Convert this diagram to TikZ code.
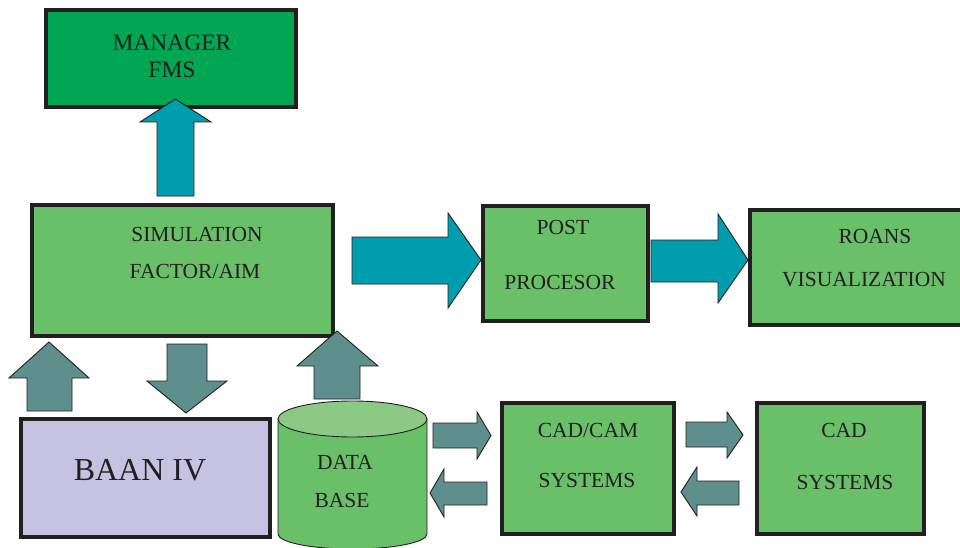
\documentclass[tikz,border=0pt]{standalone}
\usepackage{fontspec}
\setmainfont{Liberation Serif}
\definecolor{mgrgreen}{HTML}{00A651}
\definecolor{boxgreen}{HTML}{6ABF69}
\definecolor{tealA}{HTML}{009DAE}
\definecolor{tealB}{HTML}{5F8F8D}
\definecolor{baan}{HTML}{C5C3E1}
\definecolor{dbtop}{HTML}{8CC985}
\definecolor{ink}{HTML}{231F20}
\begin{document}
\begin{tikzpicture}[x=1pt,y=-1pt,
  box/.style={draw=ink, line width=4pt, rectangle, inner sep=0pt},
  lbl/.style={text=ink, font=\fontsize{21.5}{21.5}\selectfont, inner sep=0pt, text depth=0pt},
  barrow/.style={draw=ink, line width=0.9pt, line join=miter}]
\useasboundingbox (0,0) rectangle (960,548);
\clip (0,0) rectangle (960,548);
% boxes
\node[box, fill=mgrgreen, minimum width=250pt, minimum height=97pt] (mgr) at (171,58.5) {};
\node[box, fill=boxgreen, minimum width=301pt, minimum height=131pt] (sim) at (182.5,270.5) {};
\node[box, fill=boxgreen, minimum width=165pt, minimum height=115pt] (post) at (565.5,263.5) {};
\node[box, fill=boxgreen, minimum width=216pt, minimum height=115pt] (roans) at (858,267.5) {};
\node[box, line width=4.5pt, fill=baan, minimum width=249pt, minimum height=118pt] (baan) at (145.5,478) {};
\node[box, fill=boxgreen, minimum width=172pt, minimum height=131pt] (cadcam) at (588,468.5) {};
\node[box, fill=boxgreen, minimum width=167pt, minimum height=131pt] (cad) at (840.5,468.5) {};
% database cylinder
\draw[draw=ink, line width=0.9pt, fill=boxgreen] (278,419) -- (278,534)
  arc[start angle=180, end angle=0, x radius=74.5, y radius=15] -- (427,419) -- cycle;
\draw[draw=ink, line width=0.9pt, fill=dbtop] (352.5,419) ellipse [x radius=74.5, y radius=18];
% teal arrows
\draw[barrow, fill=tealA] (157,196) -- (157,122) -- (140,122) -- (175.5,99) -- (211,122) -- (194,122) -- (194,196) -- cycle;
\draw[barrow, fill=tealA] (352,237) -- (448,237) -- (448,213) -- (481,260) -- (448,308) -- (448,284) -- (352,284) -- cycle;
\draw[barrow, fill=tealA] (651,240) -- (718,240) -- (718,214) -- (748,260) -- (718,303) -- (718,282) -- (651,282) -- cycle;
% grey-teal arrows
\draw[barrow, fill=tealB] (27,411) -- (27,378) -- (9,378) -- (49,342) -- (89,378) -- (72,378) -- (72,411) -- cycle;
\draw[barrow, fill=tealB] (167,344) -- (207,344) -- (207,381) -- (227,381) -- (186,413) -- (147,381) -- (167,381) -- cycle;
\draw[barrow, fill=tealB] (314,399) -- (314,366) -- (297,366) -- (337,331) -- (378,366) -- (360,366) -- (360,399) -- cycle;
\draw[barrow, fill=tealB] (433,423) -- (477,423) -- (477,412) -- (491,435.5) -- (477,459) -- (477,448) -- (433,448) -- cycle;
\draw[barrow, fill=tealB] (487,482) -- (444,482) -- (444,469) -- (430,493) -- (444,517) -- (444,505) -- (487,505) -- cycle;
\draw[barrow, fill=tealB] (686,422) -- (727,422) -- (727,412) -- (743,435) -- (727,458) -- (727,447) -- (686,447) -- cycle;
\draw[barrow, fill=tealB] (739,481) -- (697,481) -- (697,467) -- (681,492) -- (697,516) -- (697,505) -- (739,505) -- cycle;
% labels
\node[lbl, font=\fontsize{23.5}{23.5}\selectfont] (t1) at (172,43) {MANAGER};
\node[lbl, font=\fontsize{23.5}{23.5}\selectfont] (t2) at (172,70) {FMS};
\node[lbl] (t3) at (197,234) {SIMULATION};
\node[lbl] (t4) at (195,271) {FACTOR/AIM};
\node[lbl] (t5) at (563,227) {POST};
\node[lbl] (t6) at (560,282) {PROCESOR};
\node[lbl] (t7) at (875,236) {ROANS};
\node[lbl] (t8) at (864,279) {VISUALIZATION};
\node[lbl, font=\fontsize{32}{32}\selectfont] (t9) at (140,470) {BAAN IV};
\node[lbl] (t10) at (345,462) {DATA};
\node[lbl] (t11) at (342,500) {BASE};
\node[lbl] (t12) at (588,430) {CAD/CAM};
\node[lbl] (t13) at (587,480) {SYSTEMS};
\node[lbl] (t14) at (844,430) {CAD};
\node[lbl] (t15) at (845,482) {SYSTEMS};
\end{tikzpicture}
\end{document}
